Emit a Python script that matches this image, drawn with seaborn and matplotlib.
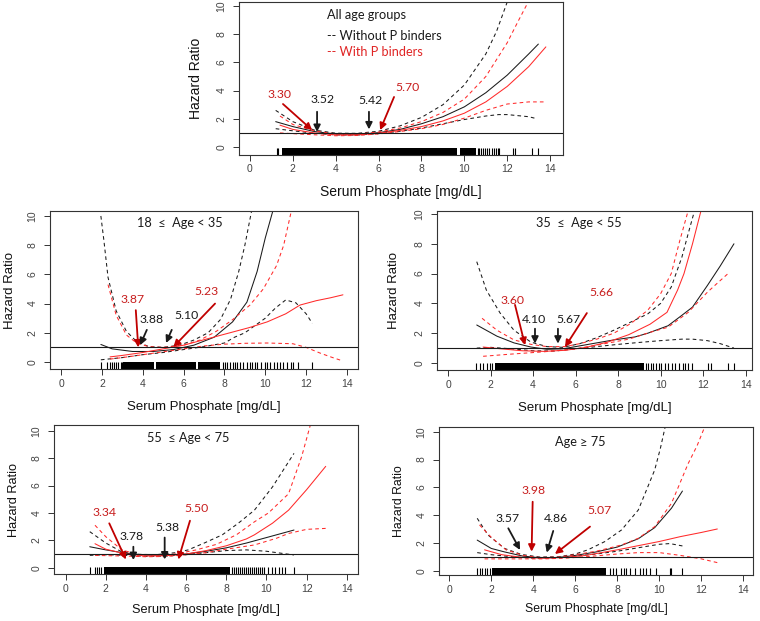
import matplotlib
matplotlib.use("Agg")
import matplotlib.pyplot as plt
import seaborn as sns

# ------------------------------------------------------------------ data
TICKS_X = [0, 2, 4, 6, 8, 10, 12, 14]
TICKS_Y = [0, 2, 4, 6, 8, 10]
XLABEL = "Serum Phosphate [mg/dL]"
YLABEL = "Hazard Ratio"
TITLES = ["All age groups", "18  \u2264  Age < 35", "35  \u2264  Age < 55",
          "55  \u2264 Age < 75", "Age \u2265 75"]
LEGEND_LABELS = ["-- Without P binders", "-- With P binders"]

# Panel 1: all age groups
P1_BUP_X = [1.2, 2, 3, 4, 5, 6, 7, 8, 9, 10, 11, 11.5, 12.05]
P1_BUP_Y = [2.6, 1.8, 1.2, 0.98, 0.97, 1.12, 1.5, 2.1, 3.0, 4.4, 6.6, 8.2, 10.5]
P1_BEST_X = [1.2, 2, 3, 4, 5, 6, 7, 8, 9, 10, 11, 12, 13, 13.45]
P1_BEST_Y = [1.8, 1.45, 1.1, 0.92, 0.9, 1.02, 1.25, 1.65, 2.15, 2.85, 3.85, 5.1, 6.6, 7.3]
P1_BLO_X = [1.2, 2, 3, 4, 5, 6, 7, 8, 9, 10, 11, 11.6, 12, 13, 13.4]
P1_BLO_Y = [1.3, 1.15, 0.98, 0.86, 0.85, 0.95, 1.12, 1.35, 1.65, 1.95, 2.2, 2.3, 2.3, 2.15, 2.0]
P1_RUP_X = [1.4, 2, 3, 4, 5, 6, 7, 8, 9, 10, 11, 12, 12.5, 13.05]
P1_RUP_Y = [2.2, 1.6, 1.15, 0.93, 0.92, 1.06, 1.35, 1.8, 2.45, 3.4, 5.0, 7.4, 8.9, 10.5]
P1_REST_X = [1.4, 2, 3, 4, 5, 6, 7, 8, 9, 10, 11, 12, 13, 13.8]
P1_REST_Y = [1.55, 1.25, 1.0, 0.86, 0.86, 0.98, 1.18, 1.45, 1.85, 2.4, 3.2, 4.3, 5.7, 7.1]
P1_RLO_X = [1.4, 2, 3, 4, 5, 6, 7, 8, 9, 10, 11, 12, 13, 13.8]
P1_RLO_Y = [1.0, 0.95, 0.87, 0.8, 0.82, 0.93, 1.1, 1.3, 1.6, 2.05, 2.6, 3.05, 3.2, 3.2]
P1_RUG = [1.24, 1.3, 10.62, 10.7, 10.78, 10.86, 10.95, 11.05, 11.15, 11.3, 11.4,
          11.48, 11.55, 11.63, 12.26, 12.37, 13.14, 13.45]
P1_RUG_DENSE = [(1.48, 9.64), (9.78, 10.55)]
P1_CUTS = ["3.30", "3.52", "5.42", "5.70"]

# Panel 2: 18 <= age < 35
P2_BUP_X = [1.95, 2.1, 2.3, 2.7, 3.2, 3.7, 4.3, 5.0, 5.8, 6.5, 7.2, 7.8, 8.3, 8.7, 9.0, 9.35]
P2_BUP_Y = [10.0, 8.3, 5.8, 3.5, 2.1, 1.4, 1.05, 1.0, 1.15, 1.5, 2.0, 2.9, 4.3, 6.2, 8.0, 10.5]
P2_BEST_X = [1.95, 2.5, 3.5, 4.5, 5.5, 6.5, 7.5, 8.4, 9.1, 9.6, 10.0, 10.4]
P2_BEST_Y = [1.2, 0.9, 0.72, 0.72, 0.85, 1.15, 1.7, 2.75, 4.1, 6.2, 8.5, 10.5]
P2_BLO_X = [1.95, 3, 4, 5, 6, 7, 8, 8.5, 9, 9.5, 10, 10.5, 11, 11.5, 12, 12.3]
P2_BLO_Y = [0.15, 0.3, 0.5, 0.65, 0.85, 1.05, 1.3, 1.7, 2.0, 2.5, 3.0, 3.7, 4.25, 4.05, 3.3, 2.65]
P2_RUP_X = [2.3, 2.7, 3.2, 3.7, 4.3, 5.0, 6.0, 6.8, 7.6, 8.4, 9.25, 9.9, 10.55, 10.9, 11.3]
P2_RUP_Y = [5.3, 3.2, 1.85, 1.3, 1.05, 1.0, 1.15, 1.5, 2.1, 2.9, 3.9, 5.0, 6.6, 8.0, 10.5]
P2_REST_X = [2.4, 3, 4, 5, 6, 6.8, 7.6, 8.4, 9.2, 10.1, 11, 11.7, 12.5, 13.2, 13.8]
P2_REST_Y = [0.35, 0.45, 0.65, 0.9, 1.15, 1.45, 1.75, 2.05, 2.35, 2.75, 3.3, 3.9, 4.2, 4.4, 4.6]
P2_RLO_X = [2.4, 3, 4, 5, 6, 7, 8, 9, 10.1, 11.35, 12, 12.7, 13.3, 13.8]
P2_RLO_Y = [0.2, 0.3, 0.5, 0.7, 0.9, 1.1, 1.22, 1.28, 1.3, 1.25, 1.0, 0.6, 0.3, 0.07]
P2_RUG = [1.94, 2.27, 2.4, 2.48, 2.59, 2.69, 2.81, 2.92, 3.0, 7.91, 8.02, 8.14, 8.27,
          8.43, 8.52, 8.63, 8.76, 8.92, 9.09, 9.25, 9.35, 9.48, 9.61, 9.77, 9.99,
          10.07, 10.23, 10.43, 10.56, 10.72, 10.88, 11.08, 11.24, 11.37, 11.62, 12.27]
P2_RUG_DENSE = [(3.05, 4.55), (4.65, 6.6), (6.7, 7.78)]
P2_CUTS = ["3.87", "3.88", "5.10", "5.23"]

# Panel 3: 35 <= age < 55
P3_BUP_X = [1.35, 1.8, 2.45, 3.1, 3.9, 4.65, 5.4, 6.2, 7.0, 7.8, 8.6, 9.4, 10.0, 10.5, 11.0, 11.3, 11.65]
P3_BUP_Y = [6.8, 4.9, 3.35, 2.2, 1.4, 1.1, 1.05, 1.3, 1.7, 2.2, 2.75, 3.3, 4.0, 5.1, 7.1, 8.7, 10.5]
P3_BEST_X = [1.35, 2.3, 3.1, 3.9, 4.65, 5.4, 6.2, 7.2, 7.8, 8.8, 9.4, 10.35, 11.0, 11.5, 12.2, 12.8, 13.45]
P3_BEST_Y = [2.55, 1.8, 1.35, 1.07, 0.92, 0.95, 1.15, 1.4, 1.55, 1.75, 2.0, 2.5, 3.2, 3.75, 5.2, 6.5, 8.0]
P3_BLO_X = [1.35, 2, 3, 4, 5, 6, 7, 8, 9, 10, 11, 11.5, 12.2, 12.8, 13.45]
P3_BLO_Y = [1.0, 1.05, 0.95, 0.82, 0.8, 0.95, 1.1, 1.25, 1.38, 1.5, 1.6, 1.6, 1.5, 1.3, 1.0]
P3_RUP_X = [1.6, 2.3, 3.1, 3.9, 4.65, 5.5, 6.2, 7.0, 7.8, 8.6, 9.4, 10.0, 10.5, 10.9, 11.35]
P3_RUP_Y = [3.0, 2.2, 1.55, 1.25, 1.1, 1.1, 1.3, 1.6, 2.0, 2.65, 3.55, 4.65, 6.0, 8.2, 10.5]
P3_REST_X = [1.65, 2.5, 3.5, 4.5, 5.5, 6.5, 7.5, 8.5, 9.5, 10.3, 10.8, 11.1, 11.5, 11.95]
P3_REST_Y = [1.07, 0.95, 0.82, 0.78, 0.85, 1.05, 1.4, 1.9, 2.6, 3.4, 4.9, 6.0, 8.0, 10.5]
P3_RLO_X = [1.65, 3, 4.5, 6, 7.2, 8.5, 9.6, 10.35, 11.3, 12.2, 12.7, 13.25]
P3_RLO_Y = [0.45, 0.6, 0.75, 0.95, 1.25, 1.6, 2.1, 2.4, 3.4, 4.75, 5.4, 6.1]
P3_RUG = [1.32, 1.5, 1.66, 1.82, 1.97, 2.08, 9.3, 9.41, 9.53, 9.64, 9.8, 9.91, 10.04,
          10.19, 10.35, 10.54, 10.66, 10.85, 11.05, 11.16, 11.29, 11.48, 12.23, 12.35,
          13.17, 13.43]
P3_RUG_DENSE = [(2.21, 9.2)]
P3_CUTS = ["3.60", "4.10", "5.67", "5.66"]

# Panel 4: 55 <= age < 75
P4_BUP_X = [1.2, 2, 2.8, 3.5, 4.5, 5.5, 6.1, 6.9, 7.8, 8.6, 9.4, 10.3, 11.37]
P4_BUP_Y = [2.63, 1.8, 1.15, 0.98, 0.95, 1.1, 1.3, 1.8, 2.4, 3.25, 4.2, 5.9, 8.35]
P4_BEST_X = [1.2, 2, 3, 4, 5, 6, 7, 8, 9, 10, 11.37]
P4_BEST_Y = [1.53, 1.3, 1.05, 0.92, 0.9, 1.0, 1.2, 1.45, 1.8, 2.2, 2.75]
P4_BLO_X = [1.2, 2, 3, 4, 5, 6, 7, 8, 9, 10, 11.37]
P4_BLO_Y = [0.9, 0.95, 0.9, 0.83, 0.85, 0.95, 1.1, 1.25, 1.3, 1.2, 0.93]
P4_RUP_X = [1.46, 2, 2.8, 3.6, 4.5, 5.5, 6.5, 7.5, 8.5, 9.4, 10.1, 11.1, 11.75, 12.2]
P4_RUP_Y = [3.1, 2.26, 1.3, 0.95, 0.92, 1.0, 1.3, 1.7, 2.4, 3.35, 4.0, 5.4, 8.1, 10.5]
P4_REST_X = [1.46, 2, 3, 4, 5, 6, 7, 8, 9, 9.4, 10.3, 11.1, 12, 12.95]
P4_REST_Y = [1.75, 1.35, 1.0, 0.85, 0.88, 1.0, 1.25, 1.6, 2.1, 2.4, 3.25, 4.2, 5.7, 7.4]
P4_RLO_X = [1.46, 2, 3, 4, 5, 6, 7, 8, 9.4, 10.5, 11.1, 12, 12.95]
P4_RLO_Y = [0.9, 0.88, 0.85, 0.8, 0.82, 0.95, 1.1, 1.35, 1.66, 2.15, 2.5, 2.8, 2.87]
P4_RUG = [1.21, 1.46, 1.55, 1.65, 1.75, 8.3, 8.4, 8.5, 8.6, 8.7, 8.8, 8.9, 9.0, 9.1,
          9.2, 9.3, 9.4, 9.5, 9.6, 9.7, 9.8, 9.9, 10.1, 10.26, 10.43, 10.6, 10.76,
          10.93, 11.38]
P4_RUG_DENSE = [(1.9, 8.2)]
P4_CUTS = ["3.34", "3.78", "5.38", "5.50"]

# Panel 5: age >= 75
P5_BUP_X = [1.33, 1.84, 2.63, 3.43, 4.3, 5.2, 6.0, 6.6, 7.4, 8.2, 9.0, 9.78, 10.05, 10.3]
P5_BUP_Y = [3.77, 2.57, 1.6, 1.17, 0.98, 1.0, 1.2, 1.5, 2.09, 2.93, 4.37, 7.25, 8.8, 10.5]
P5_BEST_X = [1.33, 2, 2.63, 3.5, 4.3, 5.2, 6, 7, 8, 9, 9.78, 10.58, 11.1]
P5_BEST_Y = [2.2, 1.6, 1.35, 1.05, 0.93, 0.95, 1.1, 1.35, 1.7, 2.3, 3.1, 4.5, 5.73]
P5_BLO_X = [1.33, 2, 3, 4, 5, 6, 7, 8, 9, 10, 10.5, 11.1]
P5_BLO_Y = [1.3, 1.15, 1.0, 0.9, 0.92, 1.05, 1.2, 1.4, 1.65, 1.9, 1.95, 1.78]
P5_RUP_X = [1.44, 2, 2.7, 3.5, 4.3, 5.2, 6, 7, 8.2, 9.0, 9.78, 10.58, 11.37, 11.8, 12.2]
P5_RUP_Y = [3.29, 2.4, 1.5, 1.1, 0.95, 0.98, 1.15, 1.4, 1.85, 2.33, 3.17, 4.85, 7.7, 9.0, 10.5]
P5_REST_X = [1.68, 2.5, 3.5, 4.5, 5.5, 6.5, 8, 10, 11, 12, 12.76]
P5_REST_Y = [1.5, 1.15, 0.95, 0.9, 0.95, 1.1, 1.5, 2.1, 2.45, 2.75, 3.0]
P5_RLO_X = [1.68, 2.5, 3.5, 4.5, 5.5, 6.5, 8, 9, 10, 11, 12, 12.76]
P5_RLO_Y = [0.85, 0.85, 0.85, 0.85, 0.9, 1.0, 1.2, 1.3, 1.3, 1.1, 0.85, 0.58]
P5_RUG = [1.33, 1.45, 1.56, 1.68, 1.8, 1.92, 7.64, 7.8, 7.96, 8.19, 8.32, 8.43, 8.59,
          8.83, 9.07, 9.22, 9.38, 9.54, 9.86, 10.5, 10.57, 11.1]
P5_RUG_DENSE = [(2.05, 7.45)]
P5_CUTS = ["3.57", "3.98", "4.86", "5.07"]

# ------------------------------------------------------------------ style / layout
BLACK = "#1a1a1a"
RED_LINE = "#ff2a2a"
RED_TXT = "#c81e1e"
RED_ARROW = "#c00000"
DASH = (0, (3.5, 3.0))
LABEL_FONT = ["Liberation Sans", "DejaVu Sans"]
NOTE_FONT = ["Lato", "DejaVu Sans"]

sns.set_theme(style="white")
plt.rcParams["font.family"] = LABEL_FONT

panels = [
    dict(rect=[0.3145, 0.7512, 0.4263, 0.2448], xlim=(-0.51, 14.6), ylim=(-0.53, 10.25),
         lab_fs=10.0, xlab_y=-0.20, ylab_x=-0.11,
         curves=[(P1_BUP_X, P1_BUP_Y, BLACK, DASH), (P1_BEST_X, P1_BEST_Y, BLACK, "-"),
                 (P1_BLO_X, P1_BLO_Y, BLACK, DASH), (P1_RUP_X, P1_RUP_Y, RED_LINE, DASH),
                 (P1_REST_X, P1_REST_Y, RED_LINE, "-"), (P1_RLO_X, P1_RLO_Y, RED_LINE, DASH)],
         rug=P1_RUG, dense=P1_RUG_DENSE, cuts=P1_CUTS,
         notes=[(RED_TXT, RED_ARROW, (1.4, 3.7), (1.54, 3.05), (2.9, 1.2)),
                (BLACK, BLACK, (3.4, 3.4), (3.13, 2.5), (3.13, 1.07)),
                (BLACK, BLACK, (5.6, 3.3), (5.55, 2.5), (5.55, 1.25)),
                (RED_TXT, RED_ARROW, (7.33, 4.25), (6.72, 3.55), (6.07, 1.2))],
         title_xy=None),
    dict(rect=[0.0658, 0.4058, 0.4053, 0.2544], xlim=(-0.54, 14.54), ylim=(-0.48, 10.34),
         lab_fs=9.5, xlab_y=-0.205, ylab_x=-0.11,
         curves=[(P2_BUP_X, P2_BUP_Y, BLACK, DASH), (P2_BEST_X, P2_BEST_Y, BLACK, "-"),
                 (P2_BLO_X, P2_BLO_Y, BLACK, DASH), (P2_RUP_X, P2_RUP_Y, RED_LINE, DASH),
                 (P2_REST_X, P2_REST_Y, RED_LINE, "-"), (P2_RLO_X, P2_RLO_Y, RED_LINE, DASH)],
         rug=P2_RUG, dense=P2_RUG_DENSE, cuts=P2_CUTS,
         notes=[(RED_TXT, RED_ARROW, (3.52, 4.3), (3.66, 3.55), (3.78, 1.0)),
                (BLACK, BLACK, (4.45, 2.9), (4.2, 2.2), (3.87, 1.15)),
                (BLACK, BLACK, (6.15, 3.15), (5.42, 2.2), (5.14, 1.3)),
                (RED_TXT, RED_ARROW, (7.1, 4.85), (7.54, 4.0), (5.5, 1.03))],
         title_xy=(5.82, 9.5)),
    dict(rect=[0.575, 0.4042, 0.4145, 0.256], xlim=(-0.52, 14.3), ylim=(-0.47, 10.2),
         lab_fs=9.5, xlab_y=-0.2, ylab_x=-0.117,
         curves=[(P3_BUP_X, P3_BUP_Y, BLACK, DASH), (P3_BEST_X, P3_BEST_Y, BLACK, "-"),
                 (P3_BLO_X, P3_BLO_Y, BLACK, DASH), (P3_RUP_X, P3_RUP_Y, RED_LINE, DASH),
                 (P3_REST_X, P3_REST_Y, RED_LINE, "-"), (P3_RLO_X, P3_RLO_Y, RED_LINE, DASH)],
         rug=P3_RUG, dense=P3_RUG_DENSE, cuts=P3_CUTS,
         notes=[(RED_TXT, RED_ARROW, (3.05, 4.2), (3.15, 3.9), (3.62, 1.2)),
                (BLACK, BLACK, (4.04, 2.95), (4.09, 2.3), (4.09, 1.3)),
                (BLACK, BLACK, (5.68, 2.95), (5.17, 2.3), (5.17, 1.3)),
                (RED_TXT, RED_ARROW, (7.23, 4.7), (6.53, 3.35), (5.5, 1.07))],
         title_xy=(6.15, 9.4)),
    dict(rect=[0.0711, 0.0757, 0.4, 0.2399], xlim=(-0.58, 14.56), ylim=(-0.46, 10.42),
         lab_fs=9.2, xlab_y=-0.2, ylab_x=-0.112,
         curves=[(P4_BUP_X, P4_BUP_Y, BLACK, DASH), (P4_BEST_X, P4_BEST_Y, BLACK, "-"),
                 (P4_BLO_X, P4_BLO_Y, BLACK, DASH), (P4_RUP_X, P4_RUP_Y, RED_LINE, DASH),
                 (P4_REST_X, P4_REST_Y, RED_LINE, "-"), (P4_RLO_X, P4_RLO_Y, RED_LINE, DASH)],
         rug=P4_RUG, dense=P4_RUG_DENSE, cuts=P4_CUTS,
         notes=[(RED_TXT, RED_ARROW, (1.92, 4.0), (2.17, 3.24), (3.0, 0.6)),
                (BLACK, BLACK, (3.29, 2.3), (3.37, 1.53), (3.37, 0.56)),
                (BLACK, BLACK, (5.08, 2.95), (4.93, 2.2), (4.93, 0.6)),
                (RED_TXT, RED_ARROW, (6.53, 4.3), (6.19, 3.43), (5.61, 0.6))],
         title_xy=(6.08, 9.5)),
    dict(rect=[0.5776, 0.0741, 0.4132, 0.2383], xlim=(-0.49, 14.46), ylim=(-0.31, 10.34),
         lab_fs=8.8, xlab_y=-0.19, ylab_x=-0.108,
         curves=[(P5_BUP_X, P5_BUP_Y, BLACK, DASH), (P5_BEST_X, P5_BEST_Y, BLACK, "-"),
                 (P5_BLO_X, P5_BLO_Y, BLACK, DASH), (P5_RUP_X, P5_RUP_Y, RED_LINE, DASH),
                 (P5_REST_X, P5_REST_Y, RED_LINE, "-"), (P5_RLO_X, P5_RLO_Y, RED_LINE, DASH)],
         rug=P5_RUG, dense=P5_RUG_DENSE, cuts=P5_CUTS,
         notes=[(BLACK, BLACK, (2.76, 3.77), (2.81, 3.05), (3.37, 1.49)),
                (RED_TXT, RED_ARROW, (4.0, 5.76), (3.97, 4.96), (3.92, 1.37)),
                (BLACK, BLACK, (5.07, 3.77), (4.95, 2.86), (4.64, 1.3)),
                (RED_TXT, RED_ARROW, (7.14, 4.3), (6.7, 3.17), (5.03, 1.2))],
         title_xy=(6.22, 9.28)),
]

fig = plt.figure(figsize=(7.6, 6.21), dpi=100)
fig.patch.set_facecolor("white")

for i, p in enumerate(panels):
    ax = fig.add_axes(p["rect"])
    ax.set_facecolor("white")
    for xs, ys, col, ls in p["curves"]:
        sns.lineplot(x=xs, y=ys, ax=ax, color=col, linestyle=ls, linewidth=0.75,
                     sort=False, estimator=None)
    ax.axhline(1, color=BLACK, linewidth=0.8)
    sns.rugplot(x=p["rug"], ax=ax, height=0.045, color="black", linewidth=0.8,
                expand_margins=False)
    for lo, hi in p["dense"]:
        ax.axvspan(lo, hi, ymin=0, ymax=0.045, color="black", linewidth=0)

    for label, (tcol, acol, txy, tail, head) in zip(p["cuts"], p["notes"]):
        ax.text(txy[0], txy[1], label, color=tcol, fontsize=8.8, family=NOTE_FONT,
                ha="center", va="center")
        ax.annotate("", xy=head, xytext=tail,
                    arrowprops=dict(arrowstyle="-|>", color=acol, lw=1.3,
                                    mutation_scale=10, shrinkA=0, shrinkB=0))

    if p["title_xy"] is not None:
        ax.text(p["title_xy"][0], p["title_xy"][1], TITLES[i], fontsize=9.2,
                family=NOTE_FONT, ha="center", va="center", color=BLACK)
    else:
        ax.text(3.6, 9.36, TITLES[0], fontsize=9.2, family=NOTE_FONT, ha="left",
                va="center", color=BLACK)
        ax.text(3.6, 7.87, LEGEND_LABELS[0], fontsize=9.2, family=NOTE_FONT, ha="left",
                va="center", color=BLACK)
        ax.text(3.6, 6.74, LEGEND_LABELS[1], fontsize=9.2, family=NOTE_FONT, ha="left",
                va="center", color="#e02525")

    ax.set_xlim(*p["xlim"])
    ax.set_ylim(*p["ylim"])
    ax.set_xticks(TICKS_X)
    ax.set_yticks(TICKS_Y)
    ax.set_xticklabels([str(t) for t in TICKS_X])
    ax.set_yticklabels([str(t) for t in TICKS_Y], rotation=90, va="center")
    ax.tick_params(axis="both", which="major", direction="out", length=4,
                   width=0.7, color="#333333", labelsize=7.5, labelcolor="#444444",
                   bottom=True, left=True)
    ax.tick_params(axis="x", pad=3)
    ax.tick_params(axis="y", pad=5)
    for s in ax.spines.values():
        s.set_visible(True)
        s.set_color("#333333")
        s.set_linewidth(0.8)
    ax.set_xlabel(XLABEL, fontsize=p["lab_fs"], color="#111111")
    ax.set_ylabel(YLABEL, fontsize=p["lab_fs"], color="#111111")
    ax.xaxis.set_label_coords(0.5, p["xlab_y"])
    ax.yaxis.set_label_coords(p["ylab_x"], 0.5)
    ax.grid(False)

fig.savefig("out.png", dpi=100, facecolor="white")
